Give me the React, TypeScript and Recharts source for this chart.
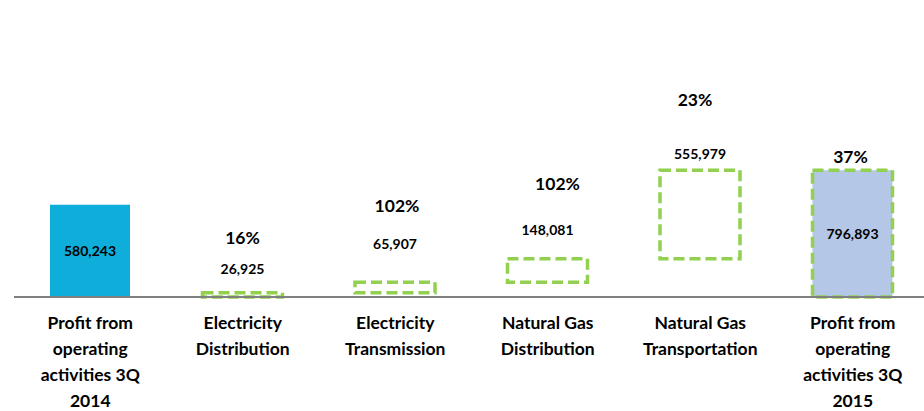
import { Bar, BarChart, Cell, LabelList, XAxis, YAxis } from "recharts";

const categories = [
  "Profit from\noperating\nactivities 3Q\n2014",
  "Electricity\nDistribution",
  "Electricity\nTransmission",
  "Natural Gas\nDistribution",
  "Natural Gas\nTransportation",
  "Profit from\noperating\nactivities 3Q\n2015",
];
const baseValues = [0, 0, 26925, 92832, 240913, 0];
const barValues = [580243, 26925, 65907, 148081, 555979, 796893];
const pctLabels = ["", "16%", "102%", "102%", "23%", "37%"];

// label placement relative to bar top (px), hand-tuned like the original slide
const valueDy = [null, -24, -39, -29, -17, null];
const pctDy = [null, -55, -77, -75, -71, -14];
const pctDx = [0, 0, 2, 10, -5, -2];

const GREEN = "#92d050";
const FONT = "Lato, 'Open Sans', sans-serif";

const data = categories.map((name, i) => ({
  name,
  base: baseValues[i],
  value: barValues[i],
}));

function BarLabels(props: any) {
  const { x, y, width, height, index } = props;
  const cx = x + width / 2;
  const vDy = valueDy[index];
  const pDy = pctDy[index];
  const valueText = barValues[index].toLocaleString("en-US");
  return (
    <g fontFamily={FONT} fontWeight={700} fill="#000">
      <text
        x={cx}
        y={vDy === null ? y + height / 2 : y + vDy}
        textAnchor="middle"
        dominantBaseline="central"
        fontSize={14}
      >
        {valueText}
      </text>
      {pDy !== null && (
        <text
          x={cx + pctDx[index]}
          y={y + pDy}
          textAnchor="middle"
          dominantBaseline="central"
          fontSize={17.5}
        >
          {pctLabels[index]}
        </text>
      )}
    </g>
  );
}

function CategoryTick(props: any) {
  const { x, y, payload } = props;
  const lines = String(payload.value).split("\n");
  return (
    <text
      x={x}
      y={y}
      textAnchor="middle"
      fontFamily={FONT}
      fontWeight={700}
      fontSize={17.5}
      fill="#000"
    >
      {lines.map((line, i) => (
        <tspan key={i} x={x} dy={i === 0 ? 24 : 26}>
          {line}
        </tspan>
      ))}
    </text>
  );
}

export default function App() {
  return (
    <div
      style={{
        position: "absolute",
        left: 0,
        top: 0,
        width: 924,
        height: 411,
        overflow: "hidden",
        background: "#fff",
      }}
    >
      <BarChart
        width={940}
        height={411}
        data={data}
        barSize={80}
        margin={{ top: 106, right: 11, bottom: 0, left: 14 }}
      >
        <XAxis
          dataKey="name"
          height={114}
          interval={0}
          tickLine={false}
          axisLine={{ stroke: "#808080", strokeWidth: 2 }}
          tick={<CategoryTick />}
        />
        <YAxis hide domain={[0, 1200000]} />
        <Bar
          dataKey="base"
          stackId="w"
          fill="transparent"
          isAnimationActive={false}
        />
        <Bar dataKey="value" stackId="w" isAnimationActive={false}>
          {data.map((_, i) => {
            if (i === 0) return <Cell key={i} fill="#0fadd9" />;
            return (
              <Cell
                key={i}
                fill={i === 5 ? "#b4c7e7" : "#ffffff"}
                stroke={GREEN}
                strokeWidth={3.5}
                strokeDasharray="11 5"
              />
            );
          })}
          <LabelList dataKey="value" content={<BarLabels />} />
        </Bar>
      </BarChart>
    </div>
  );
}
